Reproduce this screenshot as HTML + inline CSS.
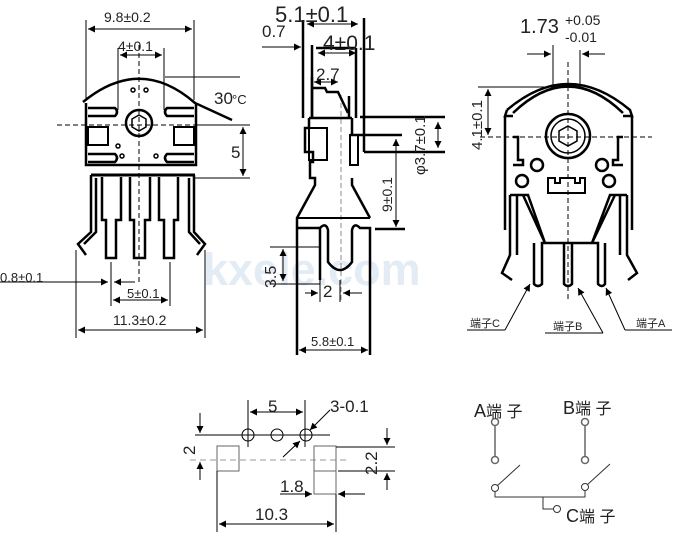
<!DOCTYPE html>
<html><head><meta charset="utf-8"><style>
html,body{margin:0;padding:0;background:#fff;}
svg{display:block;}
text{font-family:"Liberation Sans","Noto Sans CJK SC",sans-serif;fill:#222;}
</style></head><body>
<svg width="687" height="538" viewBox="0 0 687 538" xmlns="http://www.w3.org/2000/svg">
<defs>
<marker id="a" viewBox="0 0 10 10" refX="10" refY="5" markerWidth="9" markerHeight="7" orient="auto-start-reverse" markerUnits="userSpaceOnUse"><path d="M0,0L10,5L0,10z" fill="#000"/></marker>
</defs>
<text x="203" y="285" font-size="45" style="fill:#e3ebf4;font-weight:bold">kxele.com</text>

<!-- LEFT VIEW -->
<g stroke="#000" fill="none" stroke-width="1">
<line x1="86" y1="20" x2="86" y2="100"/><line x1="194" y1="20" x2="194" y2="100"/>
<line x1="88" y1="29" x2="192" y2="29" marker-start="url(#a)" marker-end="url(#a)"/>
<line x1="118" y1="48" x2="118" y2="110"/><line x1="164" y1="48" x2="164" y2="110"/>
<line x1="120" y1="55" x2="162" y2="55" marker-start="url(#a)" marker-end="url(#a)"/>
<line x1="165" y1="77" x2="240" y2="77"/>
<line x1="195" y1="125" x2="250" y2="125"/><line x1="195" y1="178" x2="250" y2="178"/>
<line x1="243" y1="127" x2="243" y2="176" marker-start="url(#a)" marker-end="url(#a)"/>
<line x1="76" y1="250" x2="76" y2="338"/><line x1="205" y1="250" x2="205" y2="338"/>
<line x1="78" y1="330" x2="203" y2="330" marker-start="url(#a)" marker-end="url(#a)"/>
<line x1="111" y1="262" x2="111" y2="306"/><line x1="170" y1="262" x2="170" y2="306"/>
<line x1="113" y1="300" x2="168" y2="300" marker-start="url(#a)" marker-end="url(#a)"/>
<line x1="0" y1="282" x2="108" y2="282" marker-end="url(#a)"/>
<line x1="135" y1="282" x2="114" y2="282" marker-end="url(#a)"/>
<line x1="57" y1="125" x2="195" y2="125" stroke-dasharray="5,3"/>
<line x1="139" y1="45" x2="139" y2="285" stroke-dasharray="5,3"/>
</g>
<g stroke="#000" fill="none" stroke-width="2.5">
<path d="M83,102 Q140,55 195,103 L232,120"/>
<path d="M86,103 L86,165 L196,165 L196,103"/>
<path d="M88,108 H115 Q119,112 115,116 H88"/>
<path d="M194,108 H167 Q163,112 167,116 H194"/>
<path d="M88,154 H115 Q119,158 115,162 H88"/>
<path d="M194,154 H167 Q163,158 167,162 H194"/>
<rect x="88" y="127" width="20" height="18" stroke-width="2"/>
<rect x="174" y="127" width="20" height="18" stroke-width="2"/>
<circle cx="139" cy="123" r="13"/>
<path d="M139,115 L146,119 L146,127 L139,131 L132,127 L132,119Z" stroke-width="1.5"/>
<path d="M91,175 H195" stroke-width="3"/>
<path d="M91,175 L91,232 L78,244 L86,255 M96,178 L96,232 L84,244"/>
<path d="M194,175 L194,232 L205,244 L197,255 M189,178 L189,232 L200,244"/>
<path d="M102,177 V220 H106 V258 H116 V220 H121 V177"/>
<path d="M130,177 V220 H134 V258 H145 V220 H150 V177"/>
<path d="M159,177 V220 H164 V258 H174 V220 H178 V177"/>
</g>
<g fill="none" stroke="#000" stroke-width="1.5">
<circle cx="133" cy="90" r="2"/><circle cx="146" cy="90" r="2"/>
<circle cx="118" cy="146" r="2"/><circle cx="122" cy="156" r="2"/><circle cx="156" cy="156" r="2"/>
</g>
<text x="104" y="22" font-size="14">9.8±0.2</text>
<text x="118" y="51" font-size="14">4±0.1</text>
<text x="214" y="104" font-size="17">30</text><text x="232" y="104" font-size="13">°C</text>
<text x="231" y="158" font-size="17">5</text>
<text x="0" y="282" font-size="13">0.8±0.1</text>
<text x="127" y="298" font-size="13">5±0.1</text>
<text x="113" y="325" font-size="14">11.3±0.2</text>

<!-- MIDDLE VIEW -->
<g stroke="#000" fill="none" stroke-width="1">
<line x1="307" y1="24" x2="358" y2="24" marker-start="url(#a)" marker-end="url(#a)"/>
<line x1="262" y1="47" x2="301" y2="47" marker-end="url(#a)"/>
<line x1="318" y1="53" x2="356" y2="53" marker-start="url(#a)" marker-end="url(#a)"/>
<line x1="314" y1="82" x2="338" y2="82" marker-start="url(#a)" marker-end="url(#a)"/>
<line x1="438" y1="122" x2="438" y2="148" marker-start="url(#a)" marker-end="url(#a)"/>
<line x1="396" y1="139" x2="396" y2="227" marker-start="url(#a)" marker-end="url(#a)"/>
<line x1="283" y1="249" x2="283" y2="281" marker-start="url(#a)" marker-end="url(#a)"/>
<line x1="270" y1="247" x2="320" y2="247"/><line x1="270" y1="284" x2="320" y2="284"/>
<line x1="305" y1="293" x2="318" y2="293" marker-end="url(#a)"/>
<line x1="362" y1="293" x2="343" y2="293" marker-end="url(#a)"/>
<line x1="320" y1="280" x2="320" y2="302"/><line x1="340" y1="280" x2="340" y2="302"/>
<line x1="299" y1="350" x2="368" y2="350" marker-start="url(#a)" marker-end="url(#a)"/>
<line x1="341" y1="95" x2="341" y2="300" stroke-dasharray="5,3" stroke="#888"/>
</g>
<g stroke="#000" fill="none" stroke-width="2.5">
<line x1="303" y1="20" x2="303" y2="118"/>
<line x1="312" y1="45" x2="312" y2="118"/>
<line x1="364" y1="18" x2="364" y2="152"/>
<line x1="316" y1="48" x2="356" y2="48"/>
<line x1="356" y1="48" x2="356" y2="118"/>
<line x1="360" y1="117" x2="445" y2="117"/>
<line x1="350" y1="135" x2="402" y2="135"/>
<line x1="364" y1="152" x2="445" y2="152"/>
<line x1="375" y1="229" x2="405" y2="229"/>
<path d="M312,77 V117 M312,88 H325 L327,92 H338 L348,113 M349,96 V117"/>
<path d="M309,118 H352 M309,118 L309,128 H305 V152 H313 V162 H310 V178 L315,178 L315,185 L297,218 V355 M297,228 H320 V280 M320,228 Q326,222 328,230 V262 Q340,278 352,262 V230 Q354,222 360,228 H370 V355 M370,218 L352,185 L352,178 M352,118 V135"/>
<path d="M297,218 H370" stroke-width="2"/>
<rect x="350" y="135" width="8" height="30" stroke-width="2"/>
<rect x="309" y="128" width="18" height="32" stroke-width="2"/>
</g>
<text x="275" y="22" font-size="22">5.1±0.1</text>
<text x="262" y="37" font-size="17">0.7</text>
<text x="323" y="50" font-size="21">4±0.1</text>
<text x="316" y="80" font-size="17">2.7</text>
<text transform="translate(425,175) rotate(-90)" font-size="15">φ3.7±0.1</text>
<text transform="translate(392,212) rotate(-90)" font-size="14">9±0.1</text>
<text transform="translate(276,288) rotate(-90)" font-size="16">3.5</text>
<text x="323" y="297" font-size="17">2</text>
<text x="311" y="346" font-size="13">5.8±0.1</text>

<!-- RIGHT VIEW -->
<g stroke="#000" fill="none" stroke-width="1">
<line x1="527" y1="54" x2="551" y2="54" marker-end="url(#a)"/>
<line x1="605" y1="54" x2="582" y2="54" marker-end="url(#a)"/>
<line x1="553" y1="45" x2="553" y2="88"/><line x1="580" y1="50" x2="580" y2="88"/>
<line x1="478" y1="87" x2="560" y2="87"/>
<line x1="488" y1="89" x2="488" y2="135" marker-start="url(#a)" marker-end="url(#a)"/>
<line x1="480" y1="137" x2="652" y2="137" stroke-dasharray="5,3"/>
<line x1="568" y1="62" x2="568" y2="300" stroke-dasharray="5,3"/>
<line x1="467" y1="330" x2="505" y2="330"/><line x1="505" y1="330" x2="530" y2="284" marker-end="url(#a)"/>
<line x1="545" y1="333" x2="603" y2="333"/><line x1="603" y1="333" x2="578" y2="288" marker-end="url(#a)"/>
<line x1="625" y1="330" x2="672" y2="330"/><line x1="625" y1="330" x2="606" y2="288" marker-end="url(#a)"/>
</g>
<g stroke="#000" fill="none" stroke-width="2.5">
<path d="M507,110 L505,116 L513,116 M513,113 Q568,60 623,113 M507,110 Q568,58 630,110 L632,116 L623,116"/>
<path d="M505,116 V230 M632,116 V230"/>
<path d="M513,137 H518 V160 H523 V165 H513 M623,137 H618 V160 H613 V165 H623"/>
<circle cx="568" cy="136" r="22"/><circle cx="568" cy="136" r="17" stroke-width="1.5"/>
<path d="M568,126 L577,131 L577,141 L568,146 L559,141 L559,131Z" stroke-width="1.5"/>
<circle cx="537" cy="165" r="6"/><circle cx="602" cy="165" r="6"/>
<circle cx="522" cy="181" r="6"/><circle cx="609" cy="181" r="6"/>
<path d="M548,178 V193 H585 V178 H580 V183 H575 V178 H560 V183 H555 V178Z" stroke-width="2"/>
<path d="M510,195 V255 L502,273 L512,280 M517,195 V255 M510,195 H528 L545,243 M523,195 L545,243 M534,243 V284 Q538,288 542,284 V243 H598 V284 Q602,288 605,284 V243"/>
<path d="M627,195 V255 L637,273 L628,280 M620,195 V255 M627,195 H610 L592,243 M615,195 L592,243"/>
<path d="M564,243 V284 Q568,288 572,284 V243"/>
</g>
<text x="520" y="33" font-size="20">1.73</text>
<text x="565" y="25" font-size="14">+0.05</text>
<text x="565" y="42" font-size="14">-0.01</text>
<text transform="translate(482,150) rotate(-90)" font-size="15">4.1±0.1</text>
<text x="470" y="327" font-size="11">端子C</text>
<text x="553" y="330" font-size="11">端子B</text>
<text x="636" y="327" font-size="11">端子A</text>

<!-- FOOTPRINT -->
<g stroke="#000" fill="none" stroke-width="1">
<line x1="195" y1="435" x2="330" y2="435"/>
<line x1="248" y1="400" x2="248" y2="447"/><line x1="305" y1="400" x2="305" y2="447"/>
<line x1="250" y1="412" x2="303" y2="412" marker-start="url(#a)" marker-end="url(#a)"/>
<circle cx="248" cy="435" r="6"/><circle cx="277" cy="435" r="6"/><circle cx="306" cy="435" r="6"/>
<line x1="330" y1="410" x2="310" y2="430" marker-end="url(#a)"/>
<line x1="283" y1="457" x2="300" y2="441" marker-end="url(#a)"/>
<line x1="200" y1="413" x2="200" y2="433" marker-end="url(#a)"/>
<line x1="200" y1="480" x2="200" y2="462" marker-end="url(#a)"/>
<line x1="190" y1="460" x2="350" y2="460" stroke-dasharray="6,4" stroke="#999"/>
<rect x="217" y="446" width="22" height="25" stroke="#666"/>
<rect x="314" y="446" width="22" height="25" stroke="#666"/>
<path d="M314,471 V494 H336 V471" stroke="#666"/>
<line x1="336" y1="447" x2="395" y2="447"/><line x1="338" y1="471" x2="395" y2="471"/>
<line x1="387" y1="428" x2="387" y2="445" marker-end="url(#a)"/>
<line x1="387" y1="490" x2="387" y2="473" marker-end="url(#a)"/>
<line x1="280" y1="494" x2="312" y2="494" marker-end="url(#a)"/>
<line x1="365" y1="494" x2="338" y2="494" marker-end="url(#a)"/>
<line x1="217" y1="471" x2="217" y2="532"/><line x1="336" y1="494" x2="336" y2="532"/>
<line x1="219" y1="524" x2="334" y2="524" marker-start="url(#a)" marker-end="url(#a)"/>
</g>
<text x="268" y="412" font-size="17">5</text>
<text x="330" y="412" font-size="17">3-0.1</text>
<text transform="translate(195,455) rotate(-90)" font-size="17">2</text>
<text transform="translate(377,475) rotate(-90)" font-size="17">2.2</text>
<text x="280" y="492" font-size="17">1.8</text>
<text x="255" y="520" font-size="17">10.3</text>

<!-- SWITCH -->
<g stroke="#666" fill="#fff" stroke-width="1.5">
<line x1="495" y1="425" x2="495" y2="457"/><line x1="585" y1="425" x2="585" y2="457"/>
<circle cx="495" cy="422" r="3.5"/><circle cx="495" cy="460" r="3.5"/>
<circle cx="585" cy="422" r="3.5"/><circle cx="585" cy="460" r="3.5"/>
</g>
<g stroke="#333" fill="#fff" stroke-width="1">
<line x1="497" y1="486" x2="520" y2="465"/><line x1="587" y1="485" x2="610" y2="464"/>
<path d="M495,491 V497 H585 V491 M543,497 V509 H554" fill="none"/>
<circle cx="495" cy="488" r="3.5"/><circle cx="585" cy="487" r="3.5"/>
<circle cx="557" cy="509" r="3.5"/>
</g>
<text x="474" y="417" font-size="18">A<tspan font-size="16">端 子</tspan></text>
<text x="563" y="414" font-size="18">B<tspan font-size="16">端 子</tspan></text>
<text x="566" y="522" font-size="18">C<tspan font-size="16">端 子</tspan></text>
</svg>
</body></html>
